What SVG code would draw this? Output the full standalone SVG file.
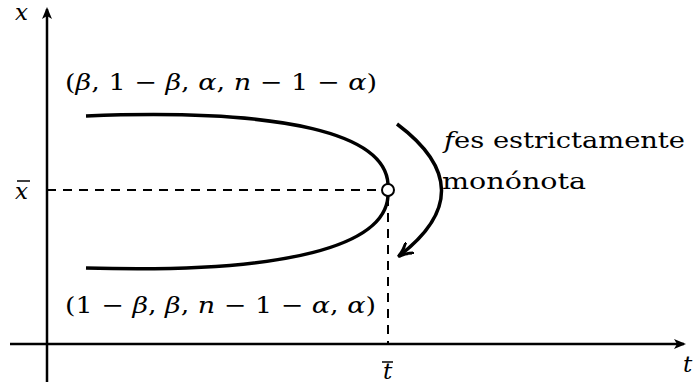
<svg xmlns="http://www.w3.org/2000/svg" width="695" height="391" viewBox="0 0 695 391">
<style>
.t{font-family:'DejaVu Serif','Liberation Serif',serif;font-size:23px;fill:#000}
.i{font-style:italic}
.ax{stroke:#000;stroke-width:2.5;fill:none}
.cv{stroke:#000;stroke-width:3.5;fill:none}
.ds{stroke:#000;stroke-width:2;fill:none;stroke-dasharray:9,7}
</style>
<defs>
<marker id="ah" viewBox="0 0 12 10" refX="10" refY="5" markerWidth="12" markerHeight="10" markerUnits="userSpaceOnUse" orient="auto">
<path d="M0,0 L12,5 L0,10 L3,5 Z" fill="#000"/>
</marker>
<marker id="ah2" viewBox="0 0 16 14" refX="14" refY="7" markerWidth="16" markerHeight="14" markerUnits="userSpaceOnUse" orient="auto">
<path d="M0,0 Q6,5 15,7 Q6,9 0,14" fill="none" stroke="#000" stroke-width="3"/>
</marker>
</defs>
<g id="connectors">
<line class="ax" x1="47" y1="382" x2="47" y2="9" marker-end="url(#ah)"/>
<line class="ax" x1="10" y1="344" x2="684" y2="344" marker-end="url(#ah)"/>
<line class="ds" x1="47" y1="190" x2="382" y2="190"/>
<line class="ds" x1="388" y1="197" x2="388" y2="344"/>
<path class="cv" d="M86,116 C290,108 385,135 388,184"/>
<path class="cv" d="M86,268 C290,274 385,245 388,196"/>
<path class="cv" d="M397,124 Q485,190 399,256" marker-end="url(#ah2)"/>
</g>
<g id="point"><circle cx="388" cy="190" r="6" fill="#fff" stroke="#000" stroke-width="2"/></g>
<g id="labels">
<text class="t i" x="15" y="20">x</text>
<text class="t i" x="15" y="199">x</text>
<line x1="17" y1="181" x2="30" y2="181" stroke="#000" stroke-width="1.5"/>
<text class="t i" x="383" y="379">t</text>
<line x1="382" y1="362" x2="393" y2="362" stroke="#000" stroke-width="1.5"/>
<text class="t i" x="683" y="372">t</text>
<text class="t" x="65" y="90" textLength="312" lengthAdjust="spacingAndGlyphs">(<tspan class="i">β</tspan>, 1 − <tspan class="i">β</tspan>, <tspan class="i">α</tspan>, <tspan class="i">n</tspan> − 1 − <tspan class="i">α</tspan>)</text>
<text class="t" x="65" y="313" textLength="311" lengthAdjust="spacingAndGlyphs">(1 − <tspan class="i">β</tspan>, <tspan class="i">β</tspan>, <tspan class="i">n</tspan> − 1 − <tspan class="i">α</tspan>, <tspan class="i">α</tspan>)</text>
<text class="t" x="444" y="148" textLength="241" lengthAdjust="spacingAndGlyphs"><tspan class="i">f</tspan>es estrictamente</text>
<text class="t" x="442" y="189" textLength="144" lengthAdjust="spacingAndGlyphs">monónota</text>
</g>
</svg>
